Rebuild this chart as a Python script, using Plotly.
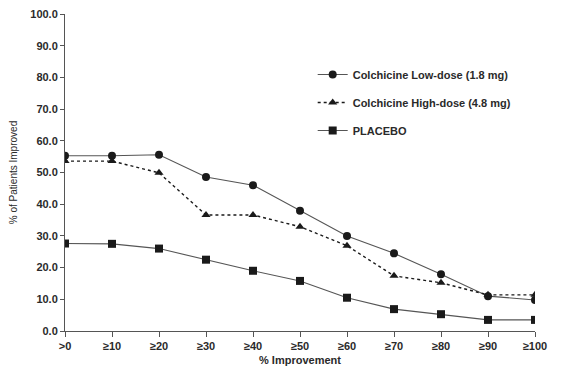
import plotly.graph_objects as go

categories = [">0", "≥10", "≥20", "≥30", "≥40", "≥50", "≥60", "≥70", "≥80", "≥90", "≥100"]
low_dose = [55.3, 55.3, 55.6, 48.6, 46.0, 37.9, 30.0, 24.5, 17.9, 11.0, 9.8]
high_dose = [53.6, 53.6, 49.9, 36.6, 36.6, 32.9, 26.9, 17.4, 15.2, 11.4, 11.4]
placebo = [27.6, 27.5, 26.0, 22.5, 19.0, 15.8, 10.5, 6.9, 5.3, 3.5, 3.5]
y_ticks = [0, 10, 20, 30, 40, 50, 60, 70, 80, 90, 100]
y_ticklabels = [f"{v:.1f}" for v in y_ticks]
x_title = "% Improvement"
y_title = "% of Patients Improved"

x = list(range(len(categories)))
font_family = "Liberation Sans, Arial, sans-serif"

fig = go.Figure()
fig.add_trace(go.Scatter(
    x=x, y=low_dose, name="Colchicine Low-dose (1.8 mg)", mode="lines+markers",
    line=dict(color="#555555", width=1.1),
    marker=dict(symbol="circle", size=8, color="#1a1a1a"),
    legendgroup="a",
))
fig.add_trace(go.Scatter(
    x=x, y=high_dose, name="Colchicine High-dose (4.8 mg)", mode="lines+markers",
    line=dict(color="#1a1a1a", width=1.4, dash="dot"),
    marker=dict(symbol="triangle-up", size=8, color="#1a1a1a"),
    legendgroup="b",
))
fig.add_trace(go.Scatter(
    x=x, y=placebo, name="PLACEBO", mode="lines+markers",
    line=dict(color="#555555", width=1.1),
    marker=dict(symbol="square", size=8, color="#1a1a1a"),
    legendgroup="c",
))

# The page body has an 8px default margin, so the figure is sized to fit the window.
fig.update_layout(
    template="none",
    width=567, height=358,
    margin=dict(l=57, r=40, t=6, b=35, autoexpand=False),
    paper_bgcolor="white", plot_bgcolor="white",
    font=dict(family=font_family, size=11, color="#2a2a2a"),
    showlegend=True,
    legend=dict(
        x=0.527, y=0.855, xanchor="left", yanchor="top",
        font=dict(size=11, color="#2a2a2a", weight="bold"),
        traceorder="grouped", tracegroupgap=9,
        bgcolor="rgba(0,0,0,0)",
    ),
    xaxis=dict(
        range=[0, 10], tickmode="array", tickvals=x, ticktext=categories,
        automargin=False, ticklabeloverflow="allow",
        showgrid=False, zeroline=False, showline=True, linecolor="#555555", linewidth=1,
        ticks="outside", ticklen=5, tickcolor="#555555",
        tickfont=dict(size=11, color="#2a2a2a", weight="bold"),
    ),
    yaxis=dict(
        range=[0, 100], tickmode="array", tickvals=y_ticks, ticktext=y_ticklabels,
        automargin=False, ticklabeloverflow="allow",
        showgrid=False, zeroline=False, showline=True, linecolor="#555555", linewidth=1,
        ticks="outside", ticklen=4, tickcolor="#555555",
        tickfont=dict(size=11, color="#2a2a2a", weight="bold"),
        title=dict(text=y_title, font=dict(size=10, color="#2a2a2a"), standoff=14),
    ),
    annotations=[dict(
        text=x_title, x=0.5, xref="paper", y=0, yref="paper",
        xanchor="center", yanchor="top", yshift=-21, showarrow=False,
        font=dict(size=11, color="#2a2a2a", weight="bold"),
    )],
)

fig.write_html("out.html")
